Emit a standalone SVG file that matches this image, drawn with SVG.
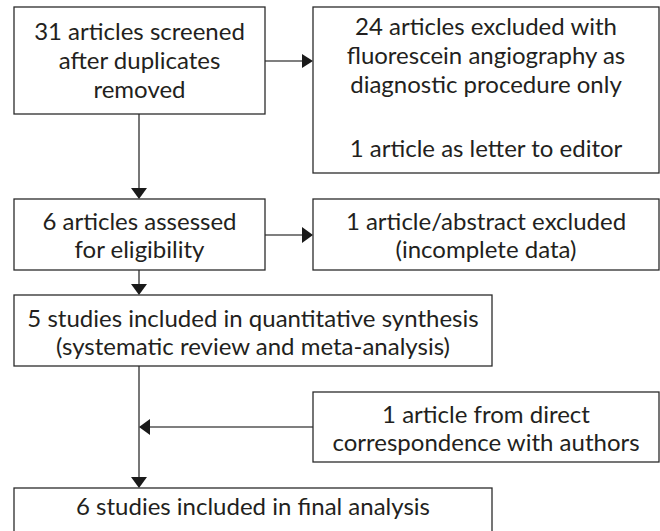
<svg xmlns="http://www.w3.org/2000/svg" width="660" height="531" viewBox="0 0 660 531">
<defs>
<style>
.box{fill:#fff;stroke:#2b2b2b;stroke-width:1.3}
.t{font-family:Lato,"Liberation Sans",sans-serif;font-size:24px;fill:#231f20;text-anchor:middle}
.c{stroke:#555;stroke-width:1.6;fill:none}
.ah{fill:#1a1a1a}
</style>
</defs>
<rect width="660" height="531" fill="#fff"/>
<g id="connectors">
<line class="c" x1="265" y1="61" x2="303" y2="61"/>
<polygon class="ah" points="313,61 302,54 302,68"/>
<line class="c" x1="139" y1="114" x2="139" y2="189"/>
<polygon class="ah" points="139,199 131,188 147,188"/>
<line class="c" x1="265" y1="235" x2="303" y2="235"/>
<polygon class="ah" points="313,235 302,227 302,243"/>
<line class="c" x1="139" y1="270" x2="139" y2="285"/>
<polygon class="ah" points="139,295 131,284 147,284"/>
<line class="c" x1="139" y1="366" x2="139" y2="478"/>
<polygon class="ah" points="139,488 131,477 147,477"/>
<line class="c" x1="313" y1="427" x2="149" y2="427"/>
<polygon class="ah" points="139,427 150,419 150,435"/>
</g>
<g id="n1">
<rect class="box" x="14" y="7" width="251" height="107"/>
<text class="t" x="139.5" y="40">31 articles screened</text>
<text class="t" x="139.5" y="69">after duplicates</text>
<text class="t" x="139.5" y="98">removed</text>
</g>
<g id="n2">
<rect class="box" x="313" y="7" width="346" height="166"/>
<text class="t" x="486" y="35">24 articles excluded with</text>
<text class="t" x="486" y="64">fluorescein angiography as</text>
<text class="t" x="486" y="93">diagnostic procedure only</text>
<text class="t" x="486" y="157">1 article as letter to editor</text>
</g>
<g id="n3">
<rect class="box" x="14" y="199" width="251" height="71"/>
<text class="t" x="139.5" y="230">6 articles assessed</text>
<text class="t" x="139.5" y="258">for eligibility</text>
</g>
<g id="n4">
<rect class="box" x="313" y="199" width="346" height="71"/>
<text class="t" x="486" y="230">1 article/abstract excluded</text>
<text class="t" x="486" y="258">(incomplete data)</text>
</g>
<g id="n5">
<rect class="box" x="14" y="295" width="478" height="71"/>
<text class="t" x="253" y="327">5 studies included in quantitative synthesis</text>
<text class="t" x="253" y="355">(systematic review and meta-analysis)</text>
</g>
<g id="n6">
<rect class="box" x="313" y="392" width="346" height="70"/>
<text class="t" x="486" y="423">1 article from direct</text>
<text class="t" x="486" y="451">correspondence with authors</text>
</g>
<g id="n7">
<rect class="box" x="14" y="488" width="478" height="50"/>
<text class="t" x="253" y="515">6 studies included in final analysis</text>
</g>
</svg>
